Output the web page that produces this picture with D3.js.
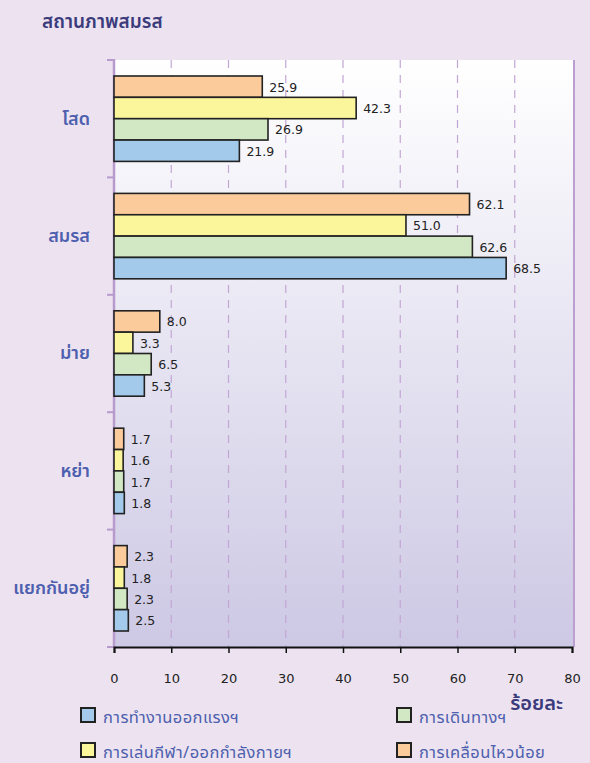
<!DOCTYPE html>
<html>
<head>
<meta charset="utf-8">
<script src="https://cdn.jsdelivr.net/npm/d3@7"></script>
<style>
  body { margin: 0; background: #ede3f0; }
  svg { display: block; }
</style>
</head>
<body>
<script>
// marital status groups, top to bottom
var categories = ['โสด', 'สมรส', 'ม่าย', 'หย่า', 'แยกกันอยู่']
var seriesNames = ['การทำงานออกแรงฯ', 'การเดินทางฯ', 'การเล่นกีฬา/ออกกำลังกายฯ', 'การเคลื่อนไหวน้อย']
var workValues = [21.9, 68.5, 5.3, 1.8, 2.5]
var travelValues = [26.9, 62.6, 6.5, 1.7, 2.3]
var sportValues = [42.3, 51.0, 3.3, 1.6, 1.8]
var sedentaryValues = [25.9, 62.1, 8.0, 1.7, 2.3]
var xTicks = [0, 10, 20, 30, 40, 50, 60, 70, 80]

var width = 590, height = 763
var plotLeft = 114, plotRight = 572, plotTop = 60, plotBottom = 647

var svg = d3.select("body").append("svg")
  .attr("width", width)
  .attr("height", height)

var defs = svg.append("defs")
var grad = defs.append("linearGradient").attr("id", "plotbg")
  .attr("x1", 0).attr("x2", 0).attr("y1", 0).attr("y2", 1)
grad.append("stop").attr("offset", "0%").attr("stop-color", "#ffffff")
grad.append("stop").attr("offset", "100%").attr("stop-color", "#cdc8e4")

var x = d3.scaleLinear().domain([0, 80]).range([plotLeft, plotRight])
var y = d3.scaleBand().domain(categories).range([plotTop, plotBottom])

// bars inside each group: sedentary on top, work at the bottom
var order = [3, 2, 1, 0]
var allValues = [workValues, travelValues, sportValues, sedentaryValues]
var colors = ['#a3c9eb', '#d2e8c5', '#fbf59c', '#fccb9b']
var inner = d3.scaleBand().domain(order).range([16, y.bandwidth() - 16])

var thaiFont = "'Noto Sans Thai', 'Noto Sans', sans-serif"
var numFont = "'DejaVu Sans', Verdana, sans-serif"

// plot background
svg.append("rect")
  .attr("x", plotLeft).attr("y", plotTop)
  .attr("width", plotRight - plotLeft + 2).attr("height", plotBottom - plotTop)
  .attr("fill", "url(#plotbg)")

// dashed grid
svg.selectAll("line.grid")
  .data(xTicks.slice(1, -1))
  .enter().append("line")
  .attr("class", "grid")
  .attr("x1", function(d) { return x(d) })
  .attr("x2", function(d) { return x(d) })
  .attr("y1", plotTop)
  .attr("y2", plotBottom)
  .attr("stroke", "#c2a6d4")
  .attr("stroke-width", 1.2)
  .attr("stroke-dasharray", "8,7")

// right border
svg.append("line")
  .attr("x1", plotRight + 2).attr("x2", plotRight + 2)
  .attr("y1", plotTop).attr("y2", plotBottom)
  .attr("stroke", "#bb9fd0").attr("stroke-width", 2)

// left axis
svg.append("line")
  .attr("x1", plotLeft).attr("x2", plotLeft)
  .attr("y1", plotTop - 1).attr("y2", plotBottom)
  .attr("stroke", "#b79bcd").attr("stroke-width", 2.5)

var yTickPos = categories.map(function(c) { return y(c) }).concat([plotBottom])
svg.selectAll("line.ytick")
  .data(yTickPos)
  .enter().append("line")
  .attr("class", "ytick")
  .attr("x1", plotLeft - 7).attr("x2", plotLeft)
  .attr("y1", function(d) { return d }).attr("y2", function(d) { return d })
  .attr("stroke", "#b79bcd").attr("stroke-width", 2)

// bars
var groups = svg.selectAll("g.cat")
  .data(categories)
  .enter().append("g")
  .attr("class", "cat")
  .attr("transform", function(d) { return "translate(0 " + y(d) + ")" })

order.forEach(function(s) {
  groups.append("rect")
    .attr("x", x(0))
    .attr("y", function() { return inner(s) })
    .attr("width", function(d, i) { return x(allValues[s][i]) - x(0) })
    .attr("height", inner.bandwidth())
    .attr("fill", colors[s])
    .attr("stroke", "#222")
    .attr("stroke-width", 1.6)

  groups.append("text")
    .attr("x", function(d, i) { return x(allValues[s][i]) + 7 })
    .attr("y", function() { return inner(s) + inner.bandwidth() / 2 + 5 })
    .text(function(d, i) { return allValues[s][i].toFixed(1) })
    .attr("font-family", numFont)
    .attr("font-size", 12.5)
    .attr("fill", "#222")
})

// category labels
groups.append("text")
  .attr("x", 90)
  .attr("y", y.bandwidth() / 2 + 6)
  .attr("text-anchor", "end")
  .text(function(d) { return d })
  .attr("font-family", thaiFont)
  .attr("font-size", 18)
  .attr("font-weight", 600)
  .attr("fill", "#4d5fae")

// bottom axis
var xAxis = svg.append("g")
  .attr("transform", "translate(0 " + plotBottom + ")")
  .call(d3.axisBottom(x).tickValues(xTicks).tickSize(6).tickFormat(d3.format("d")))
xAxis.select(".domain").attr("stroke", "#111").attr("stroke-width", 2)
xAxis.selectAll(".tick line").attr("stroke", "#111").attr("stroke-width", 1.5)
xAxis.selectAll(".tick text")
  .attr("y", 27)
  .attr("font-family", numFont)
  .attr("font-size", 13)
  .attr("fill", "#222")

// title
svg.append("text")
  .attr("x", 42).attr("y", 28)
  .text("สถานภาพสมรส")
  .attr("font-family", thaiFont)
  .attr("font-size", 19)
  .attr("font-weight", 600)
  .attr("fill", "#3b3b7c")

// axis unit
svg.append("text")
  .attr("x", 563).attr("y", 710)
  .attr("text-anchor", "end")
  .text("ร้อยละ")
  .attr("font-family", thaiFont)
  .attr("font-size", 20)
  .attr("font-weight", 600)
  .attr("fill", "#3b3b7c")

// legend
var legendPos = [[81, 716], [397, 716], [81, 751], [397, 751]]
var legend = svg.selectAll("g.legend")
  .data([0, 1, 2, 3])
  .enter().append("g")
  .attr("class", "legend")
  .attr("transform", function(d) { return "translate(" + legendPos[d][0] + " " + legendPos[d][1] + ")" })

legend.append("rect")
  .attr("x", 0).attr("y", -8)
  .attr("width", 14).attr("height", 14)
  .attr("fill", function(d) { return colors[d] })
  .attr("stroke", "#222")
  .attr("stroke-width", 2)

legend.append("text")
  .attr("x", 22).attr("y", 7)
  .text(function(d) { return seriesNames[d] })
  .attr("font-family", thaiFont)
  .attr("font-size", 16.5)
  .attr("letter-spacing", 0.4)
  .attr("fill", "#4d5fae")
</script>
</body>
</html>
